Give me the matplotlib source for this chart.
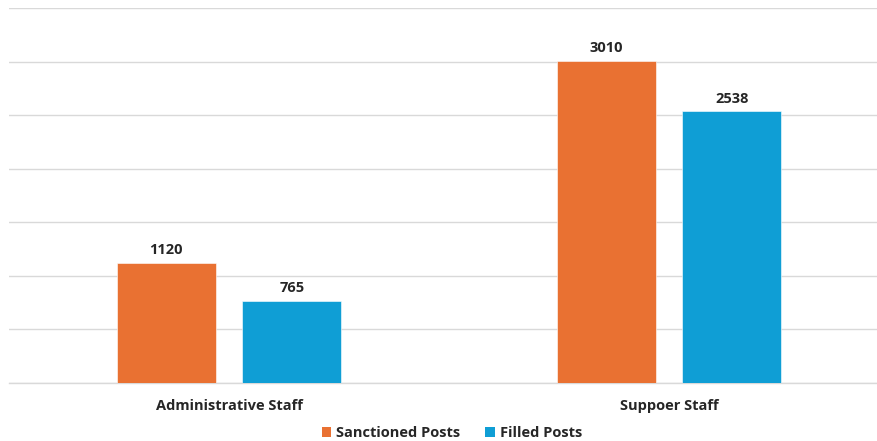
import matplotlib
matplotlib.use("Agg")
import matplotlib.pyplot as plt
from matplotlib.patches import Patch
import numpy as np

categories = ["Administrative Staff", "Suppoer Staff"]
series_names = ["Sanctioned Posts", "Filled Posts"]
sanctioned = [1120, 3010]
filled = [765, 2538]
colors = ["#E97132", "#0F9ED5"]

plt.rcParams["font.family"] = ["Open Sans", "DejaVu Sans"]

fig = plt.figure(figsize=(8.77, 4.41), dpi=100)
ax = fig.add_axes([9 / 877, 1 - 383 / 441, 880 / 877, 375 / 441])

x = np.arange(len(categories))
width = 0.225
offset = 0.1425
for vals, name, col, off in [(sanctioned, series_names[0], colors[0], -offset),
                              (filled, series_names[1], colors[1], offset)]:
    bars = ax.bar(x + off, vals, width, color=col, label=name, zorder=3,
                  edgecolor="white", linewidth=0.4)
    for b, v in zip(bars, vals):
        ax.annotate(f"{v}", (b.get_x() + b.get_width() / 2, v),
                    xytext=(0, 4), textcoords="offset points",
                    ha="center", va="bottom", fontsize=10.5, fontweight="bold",
                    color="#262626")

ax.set_xlim(-0.5, 1.5)
ax.set_ylim(0, 3500)
ax.set_yticks(np.arange(0, 3501, 500))
ax.yaxis.grid(True, color="#D9D9D9", linewidth=1, zorder=0)
ax.tick_params(axis="y", left=False, labelleft=False)
ax.tick_params(axis="x", bottom=False, pad=8)
ax.set_xticks(x)
ax.set_xticklabels(categories, fontsize=10.5, fontweight="bold", color="#262626")
for s in ["top", "right", "left"]:
    ax.spines[s].set_visible(False)
ax.spines["bottom"].set_color("#D9D9D9")
ax.spines["bottom"].set_linewidth(1)

handles = [Patch(facecolor=c, label=n) for c, n in zip(colors, series_names)]
leg = fig.legend(handles=handles, loc="center", bbox_to_anchor=(452 / 877, 1 - 433 / 441),
                 ncol=2, frameon=False, handlelength=0.65, handleheight=0.65,
                 handletextpad=0.35, columnspacing=1.7,
                 prop={"size": 10.5, "weight": "bold"})
for t in leg.get_texts():
    t.set_color("#262626")

fig.savefig("out.png", dpi=100)
